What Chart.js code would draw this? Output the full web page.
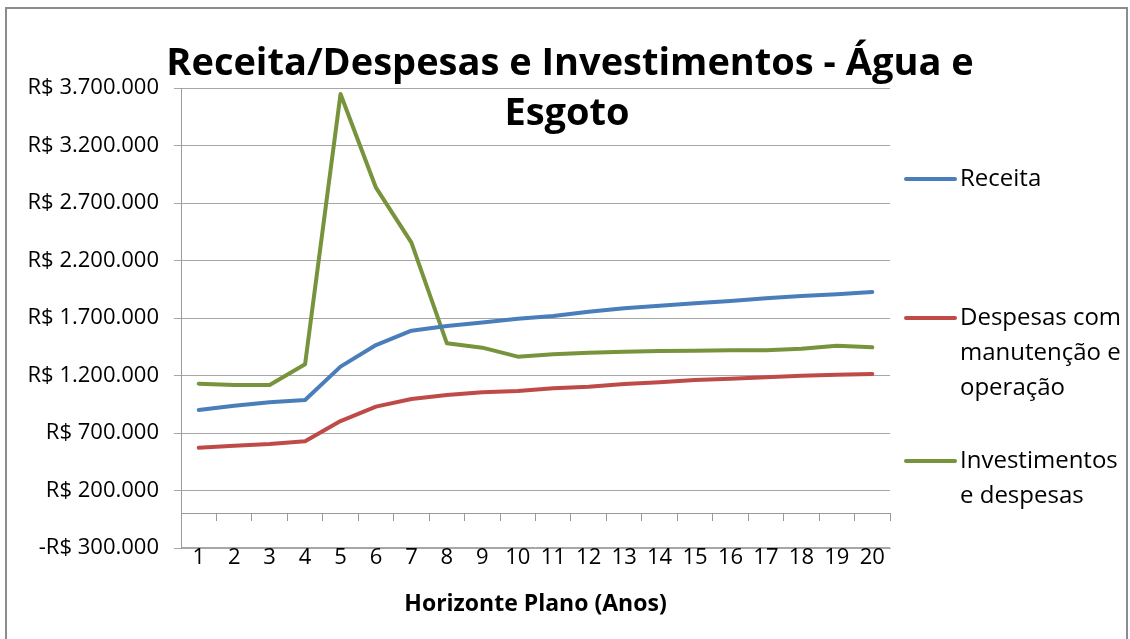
<!DOCTYPE html>
<html>
<head>
<meta charset="utf-8">
<script src="https://cdn.jsdelivr.net/npm/chart.js@4"></script>
<style>
  html, body { margin: 0; padding: 0; background: #fff; }
  #wrap { width: 1130px; height: 639px; }
</style>
</head>
<body>
<div id="wrap"><canvas id="finChart"></canvas></div>
<script>
// Anos do horizonte de plano
const anos = ['1','2','3','4','5','6','7','8','9','10','11','12','13','14','15','16','17','18','19','20'];

// Valores (R$)
const receita = [900000, 937000, 967000, 987000, 1277000, 1465000, 1590000, 1630000, 1660000, 1694000,
                 1717000, 1755000, 1785000, 1807000, 1828000, 1848000, 1871000, 1891000, 1906000, 1926000];
const despesas = [572000, 590000, 604000, 628000, 804000, 929000, 996000, 1030000, 1054000, 1065000,
                  1089000, 1103000, 1126000, 1141000, 1161000, 1172000, 1184000, 1198000, 1207000, 1213000];
const investimentos = [1129000, 1117000, 1117000, 1297000, 3648000, 2833000, 2355000, 1480000, 1442000, 1364000,
                       1384000, 1398000, 1407000, 1413000, 1416000, 1419000, 1419000, 1433000, 1459000, 1445000];

const tituloLinhas = ['Receita/Despesas e Investimentos - Água e', 'Esgoto'];
const legendaItens = [
    { linhas: ['Receita'], cor: '#4A7EBB', y: 179 },
    { linhas: ['Despesas com', 'manutenção e', 'operação'], cor: '#BE4B48', y: 318 },
    { linhas: ['Investimentos', 'e despesas'], cor: '#77933C', y: 461 }
];

const fonte = '"Open Sans", "Noto Sans", sans-serif';

function formatReal(v) {
    const s = String(Math.abs(v)).replace(/\B(?=(\d{3})+(?!\d))/g, '.');
    return (v < 0 ? '-' : '') + 'R$ ' + s;
}

// moldura, título e legenda no estilo do Excel
const extras = {
    id: 'extras',
    beforeDraw(chart) {
        const ctx = chart.ctx;
        ctx.save();
        ctx.fillStyle = '#fff';
        ctx.fillRect(0, 0, chart.width, chart.height);
        ctx.restore();
    },
    afterDraw(chart) {
        const ctx = chart.ctx;
        const area = chart.chartArea;
        ctx.save();
        // borda inferior da área do gráfico
        ctx.strokeStyle = '#a6a6a6';
        ctx.lineWidth = 1;
        ctx.beginPath();
        ctx.moveTo(area.left, Math.round(area.bottom) - 0.5);
        ctx.lineTo(area.right, Math.round(area.bottom) - 0.5);
        ctx.stroke();

        ctx.strokeStyle = '#8c8c8c';
        ctx.lineWidth = 2;
        ctx.strokeRect(6, 8, 1121, 700);

        ctx.fillStyle = '#000';
        ctx.textAlign = 'center';
        ctx.textBaseline = 'alphabetic';
        ctx.font = 'bold 38px ' + fonte;
        ctx.fillText(tituloLinhas[0], 570, 75);
        ctx.fillText(tituloLinhas[1], 567, 125);

        ctx.textAlign = 'left';
        ctx.textBaseline = 'middle';
        ctx.font = '24px ' + fonte;
        legendaItens.forEach(item => {
            ctx.strokeStyle = item.cor;
            ctx.lineWidth = 4;
            ctx.lineCap = 'round';
            ctx.beginPath();
            ctx.moveTo(906, item.y);
            ctx.lineTo(955, item.y);
            ctx.stroke();
            item.linhas.forEach((t, i) => {
                ctx.fillStyle = '#000';
                ctx.fillText(t, 960, item.y + i * 35);
            });
        });
        ctx.restore();
    }
};

const ctx = document.getElementById('finChart').getContext('2d');

const finChart = new Chart(ctx, {
    type: 'line',
    data: {
        labels: anos,
        datasets: [{
            label: 'Receita',
            data: receita,
            borderColor: '#4A7EBB'
        }, {
            label: 'Despesas com manutenção e operação',
            data: despesas,
            borderColor: '#BE4B48'
        }, {
            label: 'Investimentos e despesas',
            data: investimentos,
            borderColor: '#77933C'
        }]
    },
    options: {
        responsive: true,
        maintainAspectRatio: false,
        animation: false,
        elements: {
            line: { borderWidth: 4, tension: 0, borderCapStyle: 'round', borderJoinStyle: 'round' },
            point: { radius: 0, hoverRadius: 0 }
        },
        layout: {
            padding: { left: 16, right: 240, top: 88, bottom: 0 }
        },
        plugins: {
            legend: { display: false },
            tooltip: { enabled: false }
        },
        scales: {
            x: {
                type: 'category',
                position: 'bottom',
                offset: true,
                grid: { display: true, drawOnChartArea: false, drawTicks: false, offset: true, color: '#a6a6a6' },
                border: { display: true, color: '#a6a6a6', width: 1 },
                ticks: {
                    color: '#000',
                    padding: -3,
                    maxRotation: 0,
                    autoSkip: false,
                    font: { family: fonte, size: 22 }
                },
                title: {
                    display: true,
                    text: 'Horizonte Plano (Anos)',
                    color: '#000',
                    font: { family: fonte, size: 23, weight: 'bold' },
                    padding: { top: 4, bottom: 21 }
                },
                afterFit(scale) { scale.height = 91; }
            },
            x0: {
                type: 'category',
                position: { y: 0 },
                offset: true,
                grid: { drawOnChartArea: false, offset: true, tickLength: 7, color: '#9a9a9a' },
                border: { display: true, color: '#9a9a9a', width: 1 },
                ticks: { display: false }
            },
            y: {
                min: -300000,
                max: 3700000,
                ticks: {
                    stepSize: 500000,
                    color: '#000',
                    padding: 15,
                    font: { family: fonte, size: 22 },
                    callback: v => formatReal(v)
                },
                grid: { color: '#a6a6a6', tickLength: 7 },
                border: { display: true, color: '#9a9a9a', width: 1 },
                afterFit(scale) { scale.width = 165; }
            }
        }
    },
    plugins: [extras]
});
</script>
</body>
</html>
